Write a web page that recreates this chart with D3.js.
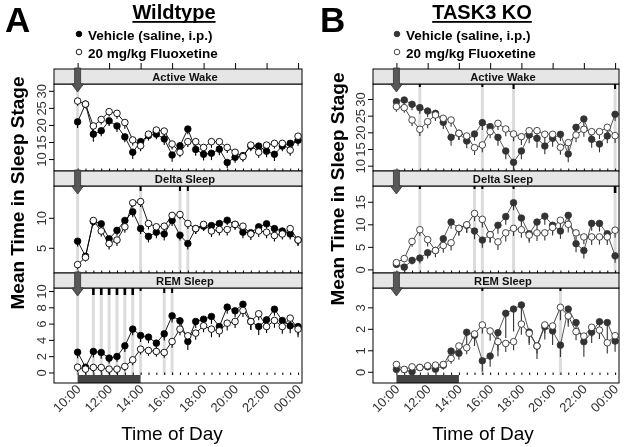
<!DOCTYPE html>
<html><head><meta charset="utf-8">
<script src="https://cdn.jsdelivr.net/npm/d3@7"></script>
<style>body{margin:0;background:#fff}svg{display:block;font-family:"Liberation Sans",Arial,sans-serif;will-change:transform}</style>
</head><body><svg id="c" width="624" height="447"></svg>
<script>
// ---------- DATA ----------
const times = ["10:00","10:30","11:00","11:30","12:00","12:30","13:00","13:30","14:00","14:30","15:00","15:30","16:00","16:30","17:00","17:30","18:00","18:30","19:00","19:30","20:00","20:30","21:00","21:30","22:00","22:30","23:00","23:30","00:00"];
const tickLabels = ["10:00","12:00","14:00","16:00","18:00","20:00","22:00","00:00"];
const stages = ["Active Wake","Delta Sleep","REM Sleep"];
const groupTitles = ["Wildtype","TASK3 KO"];
const groupLetters = ["A","B"];
const legendLabels = ["Vehicle (saline, i.p.)","20 mg/kg Fluoxetine"];
const lightsPeriod = ["10:00","14:00"];

// Wildtype
const wtVehWake  = [20.9,26.1,17.3,18.3,21.2,19.7,16.5,12.0,15.1,16.9,17.3,15.9,11.2,13.9,18.8,12.8,11.4,11.7,12.9,9.0,10.5,11.0,13.8,13.8,12.3,11.4,13.8,14.6,15.5];
const wtFluWake  = [27.0,26.1,19.7,21.6,23.9,23.4,20.7,15.6,13.9,17.3,18.5,18.2,14.4,12.0,15.1,15.1,13.4,15.1,15.1,13.4,12.0,10.7,14.1,12.0,14.1,14.6,14.6,12.6,16.7];
const wtVehDelta = [6.1,3.6,9.4,9.0,6.5,7.9,9.55,11.0,8.2,6.9,7.6,7.3,9.55,7.1,5.7,8.2,8.6,8.7,9.05,9.6,8.9,7.6,7.5,8.5,9.0,8.2,7.8,7.3,6.3];
const wtFluDelta = [2.2,3.4,9.55,7.8,5.7,6.3,8.5,12.5,12.7,9.05,8.5,8.6,10.4,10.55,9.05,8.2,8.9,7.8,8.05,8.05,8.9,8.6,7.3,7.8,7.6,7.05,7.3,8.2,6.3];
const wtVehREM   = [2.49,0.65,2.58,2.45,1.76,1.96,3.27,5.32,4.54,4.34,3.6,4.74,6.95,6.34,3.8,6.26,6.54,6.87,5.64,8.02,7.57,8.38,6.26,5.64,6.46,7.77,6.38,5.73,5.64];
const wtFluREM   = [0.65,0.41,0.61,0.61,0.41,0.41,0.74,1.55,2.86,2.7,2.58,2.45,3.8,5.32,4.5,4.83,5.73,5.32,5.11,6.05,6.26,7.61,6.26,7.2,5.64,6.38,5.64,6.67,5.32];
const wtVehWakeErr  = [1.8,1.2,2.2,1.6,1.5,1.8,1.6,2.0,1.6,1.5,1.5,1.8,2.0,1.8,1.5,1.8,1.8,2.0,1.8,1.6,1.6,1.5,1.5,1.6,1.8,2.0,1.5,1.5,1.6];
const wtFluWakeErr  = [1.4,1.2,1.6,1.5,1.4,1.6,1.8,1.6,1.6,1.4,1.4,1.6,1.6,1.5,1.6,1.6,1.6,1.8,1.6,1.6,1.6,1.5,1.4,1.6,1.6,1.5,1.4,1.6,1.4];
const wtVehDeltaErr = [0.9,0.8,0.7,0.9,0.9,0.9,0.8,0.9,0.9,1.0,1.0,1.1,0.9,0.9,1.0,0.9,0.8,0.9,0.9,0.8,0.8,1.0,0.9,0.9,0.8,0.8,0.8,0.9,0.9];
const wtFluDeltaErr = [0.8,0.7,0.8,0.9,1.0,1.0,1.0,0.8,0.9,1.0,1.0,0.9,0.9,0.8,0.9,0.9,1.0,1.0,1.0,1.0,0.9,0.9,1.0,1.0,1.0,1.0,0.9,0.9,1.0];
const wtVehREMErr   = [0.75,0.65,0.75,0.75,0.65,0.65,0.75,0.75,0.8,0.75,0.75,0.8,0.8,0.8,1.05,0.8,0.8,0.9,0.8,0.8,0.8,1.0,1.05,1.05,1.0,0.8,0.8,0.9,1.0];
const wtFluREMErr   = [0.6,0.65,0.6,0.6,0.6,0.6,0.6,0.65,0.65,0.65,0.65,0.65,0.75,0.75,0.8,0.8,0.8,1.0,0.8,0.9,0.8,0.8,1.0,0.8,0.8,0.9,0.9,0.8,1.0];

// TASK3 KO
const koVehWake  = [29.2,29.7,28.4,27.4,26.4,25.7,23.0,18.5,19.7,17.4,19.5,22.9,21.7,18.5,14.4,11.0,14.4,19.2,18.2,15.9,18.2,19.4,13.5,21.5,24.0,17.9,16.5,18.9,25.4];
const koFluWake  = [27.7,27.4,23.7,20.9,23.2,25.2,24.2,23.7,19.7,18.9,15.4,16.2,20.2,22.7,21.0,19.5,18.7,20.5,20.5,19.4,19.4,15.5,16.9,19.2,20.9,20.2,20.2,21.5,19.0];
const koVehDelta = [1.1,0.5,2.0,2.5,3.7,4.2,6.8,10.5,9.1,9.8,8.5,6.5,7.7,9.8,11.7,14.8,11.4,7.9,10.5,11.8,9.8,8.5,12.0,5.7,4.2,10.2,10.2,7.9,3.0];
const koFluDelta = [1.5,2.4,6.2,8.8,6.6,4.2,5.3,5.9,9.1,9.9,12.4,11.1,7.7,6.1,8.1,9.1,8.8,7.6,8.1,8.1,9.3,10.9,10.0,8.1,7.2,7.2,7.2,7.2,8.7];
const koVehREM   = [0.11,0.1,0.0,0.2,0.23,0.12,0.3,0.96,0.86,1.84,1.7,0.51,0.73,1.82,2.72,2.92,3.11,1.85,1.2,2.1,1.9,1.24,2.92,2.29,1.4,1.84,2.33,2.29,1.43];
const koFluREM   = [0.34,0.11,0.23,0.2,0.28,0.31,0.34,0.62,1.2,1.12,1.76,2.18,1.9,1.4,1.32,1.4,2.22,1.79,1.2,2.18,2.13,3.0,2.6,1.87,1.66,2.07,1.94,1.35,1.68];
const koVehWakeErr  = [1.5,1.5,1.8,1.8,1.8,2.0,2.0,2.5,2.0,2.2,2.0,2.2,2.0,2.5,2.5,2.2,2.5,2.5,2.8,2.5,2.5,2.0,2.5,2.2,2.2,2.5,2.5,2.2,2.0];
const koFluWakeErr  = [1.5,1.5,1.8,2.0,2.0,1.8,1.8,2.0,2.0,2.0,2.2,2.2,2.0,2.0,2.2,2.2,2.5,2.5,2.2,2.5,2.2,2.2,2.2,2.2,2.2,2.2,2.2,2.2,2.2];
const koVehDeltaErr = [0.6,0.6,0.9,1.2,1.3,1.5,1.4,1.5,1.6,1.6,1.8,1.7,1.8,1.9,1.8,1.7,1.8,1.6,1.8,1.9,1.8,1.7,1.8,1.9,1.8,1.6,1.8,1.7,1.5];
const koFluDeltaErr = [0.6,0.8,1.2,1.4,1.5,1.4,1.6,1.7,1.6,1.8,1.7,1.8,1.7,1.8,1.9,1.7,1.8,1.7,1.8,1.7,1.8,1.6,1.8,1.7,1.6,1.8,1.7,1.8,1.7];
const koVehREMErr   = [0.1,0.1,0.1,0.1,0.15,0.15,0.2,0.25,0.3,0.6,0.5,0.5,0.5,1.1,1.15,1.05,0.8,0.6,0.6,0.6,0.65,0.55,0.65,0.4,0.7,0.5,0.8,0.8,0.5];
const koFluREMErr   = [0.1,0.1,0.1,0.1,0.1,0.1,0.15,0.25,0.3,0.3,0.35,0.4,0.45,0.4,0.4,0.4,0.5,0.45,0.35,0.4,0.4,0.6,0.5,0.4,0.4,0.45,0.4,0.5,0.4];

// significance markers: [time, level]
const wtSigWake  = [["10:00",1]];
const wtSigDelta = [["10:00",1],["14:00",2],["16:30",2],["17:00",2]];
const wtSigREM   = [["10:00",1],["11:00",3],["11:30",3],["12:00",3],["12:30",3],["13:00",3],["13:30",3],["14:00",1],["15:30",2],["16:00",2]];
const koSigWake  = [["11:30",1],["15:30",1],["17:30",2],["00:00",2]];
const koSigDelta = [["11:30",1],["15:00",1],["15:30",1],["17:30",1],["00:00",3]];
const koSigREM   = [["15:30",1],["20:30",1]];

// ---------- LAYOUT ----------
const hourOf = t => { const [h,m] = t.split(":").map(Number); return (h < 10 ? h + 24 : h) + m/60; };
const svg = d3.select("#c");
const stripTops = [69,171,273], stripH = 15, plotH = 87, barH = 8;

const groups = [
  {x0:54, x1:302, titleX:174, letterX:5, legX:79, yTitleX:18, yTitleY:193, xTitleX:172,
   veh:"#000", vehLine:"#000", open:"#000",
   series:[[wtVehWake,wtFluWake,wtVehWakeErr,wtFluWakeErr],[wtVehDelta,wtFluDelta,wtVehDeltaErr,wtFluDeltaErr],[wtVehREM,wtFluREM,wtVehREMErr,wtFluREMErr]],
   sig:[wtSigWake,wtSigDelta,wtSigREM],
   domains:[[6.5,32],[0.8,15.3],[-0.31,10.37]],
   ticks:[[10,15,20,25,30],[5,10],[0,2,4,6,8,10]]},
  {x0:373, x1:619, titleX:482, letterX:320, legX:397, yTitleX:338, yTitleY:189, xTitleX:483,
   veh:"#333", vehLine:"#444", open:"#333",
   series:[[koVehWake,koFluWake,koVehWakeErr,koFluWakeErr],[koVehDelta,koFluDelta,koVehDeltaErr,koFluDeltaErr],[koVehREM,koFluREM,koVehREMErr,koFluREMErr]],
   sig:[koSigWake,koSigDelta,koSigREM],
   domains:[[8.4,34.5],[-0.8,18.5],[-0.15,3.9]],
   ticks:[[10,15,20,25,30],[0,5,10,15],[0,1,2,3]]}
];

groups.forEach((g, gi) => {
  const x = d3.scaleLinear().domain([8.5, 24.25]).range([g.x0, g.x1]);
  // header
  svg.append("text").attr("x", g.letterX).attr("y", 32).attr("font-size", 35).attr("font-weight", "bold").text(groupLetters[gi]);
  const tt = svg.append("text").attr("x", g.titleX).attr("y", 19).attr("text-anchor","middle").attr("font-size", 20).attr("font-weight","bold").text(groupTitles[gi]);
  const bb = tt.node().getBBox();
  svg.append("rect").attr("x", bb.x).attr("y", 21).attr("width", bb.width).attr("height", 1.8).attr("fill","#000");
  // legend
  [0,1].forEach(k => {
    const ly = k === 0 ? 34 : 52;
    svg.append("circle").attr("cx", g.legX).attr("cy", ly).attr("r", 2.8)
      .attr("fill", k === 0 ? g.veh : "#fff").attr("stroke", k === 0 ? g.veh : g.open).attr("stroke-width", 0.9);
    svg.append("text").attr("x", g.legX + 9).attr("y", ly + 5.5).attr("font-size", 13.5).attr("font-weight","bold").text(legendLabels[k]);
  });
  // top axis
  svg.append("g").attr("transform", `translate(0,${stripTops[0]})`)
    .call(d3.axisTop(x).tickValues(tickLabels.map(hourOf)).tickSize(6).tickFormat(""))
    .call(a => a.select(".domain").remove())
    .call(a => a.selectAll("line").attr("stroke","#000"));

  stages.forEach((st, si) => {
    const sTop = stripTops[si], pTop = sTop + stripH, pBot = pTop + plotH;
    const frameBot = si === 2 ? pBot + barH : pBot;
    const y = d3.scaleLinear().domain(g.domains[si]).range([pBot, pTop]);
    const [veh, flu, vehE, fluE] = g.series[si];
    const pg = svg.append("g");
    // significance grey lines
    g.sig[si].forEach(([t, lev]) => {
      pg.append("rect").attr("x", x(hourOf(t)) - 1.5).attr("y", pTop).attr("width", 3).attr("height", pBot - pTop).attr("fill", "#dcdcdc");
    });
    g.sig[si].forEach(([t, lev]) => {
      const len = [0, 3, 5, 7][lev], w = lev === 3 ? 2.6 : 2;
      pg.append("rect").attr("x", x(hourOf(t)) - w/2).attr("y", pTop).attr("width", w).attr("height", len).attr("fill", "#000");
    });
    // minor ticks
    pg.append("g").attr("transform", `translate(0,${pBot})`)
      .call(d3.axisBottom(x).tickValues(times.map(hourOf)).tickSize(-2.5).tickFormat(""))
      .call(a => a.select(".domain").remove())
      .call(a => a.selectAll("line").attr("stroke","#000").attr("stroke-width",1));
    // lights bar
    if (si === 2) {
      pg.append("rect").attr("x", x(hourOf(lightsPeriod[0]))).attr("y", pBot).attr("width", x(hourOf(lightsPeriod[1])) - x(hourOf(lightsPeriod[0]))).attr("height", barH).attr("fill", "#444");
    }
    // y axis
    const ya = pg.append("g").attr("transform", `translate(${g.x0},0)`)
      .call(d3.axisLeft(y).tickValues(g.ticks[si]).tickSize(5).tickPadding(0).tickFormat(d3.format("d")));
    ya.select(".domain").remove();
    ya.selectAll("line").attr("stroke","#000");
    ya.selectAll("text").attr("x", null).attr("dy", null).attr("text-anchor","middle")
      .attr("transform","translate(-8,0) rotate(-90)").attr("font-size", 13).attr("fill","#333")
      .attr("font-family", '"Liberation Sans",Arial,sans-serif');
    // data lines
    const line = d3.line().x((d,i) => x(hourOf(times[i]))).y(d => y(d));
    pg.append("path").attr("d", line(veh)).attr("fill","none").attr("stroke", g.vehLine).attr("stroke-width", 0.9);
    pg.append("path").attr("d", line(flu)).attr("fill","none").attr("stroke", g.open).attr("stroke-width", 0.9);
    // error bars (downward)
    [[veh, vehE, g.veh],[flu, fluE, g.open]].forEach(([s, e, c]) => {
      pg.selectAll(null).data(s).enter().append("line")
        .attr("x1",(d,i) => x(hourOf(times[i]))).attr("x2",(d,i) => x(hourOf(times[i])))
        .attr("y1", d => y(d)).attr("y2", (d,i) => y(d - e[i]))
        .attr("stroke", c).attr("stroke-width", 1.1);
    });
    pg.selectAll(null).data(veh).enter().append("circle")
      .attr("cx",(d,i) => x(hourOf(times[i]))).attr("cy", d => y(d)).attr("r", 3.3)
      .attr("fill", g.veh).attr("stroke", g.veh).attr("stroke-width", 0.8);
    pg.selectAll(null).data(flu).enter().append("circle")
      .attr("cx",(d,i) => x(hourOf(times[i]))).attr("cy", d => y(d)).attr("r", 3.3)
      .attr("fill", "#fff").attr("stroke", g.open).attr("stroke-width", 0.9);
    // frame
    svg.append("rect").attr("x", g.x0).attr("y", pTop).attr("width", g.x1 - g.x0).attr("height", frameBot - pTop)
      .attr("fill","none").attr("stroke","#000").attr("stroke-width",1);
    // strip
    svg.append("rect").attr("x", g.x0).attr("y", sTop).attr("width", g.x1 - g.x0).attr("height", stripH)
      .attr("fill","#e6e6e6").attr("stroke","#000").attr("stroke-width",1);
    svg.append("text").attr("x", (g.x0 + g.x1)/2 + 7).attr("y", sTop + 11.5).attr("text-anchor","middle")
      .attr("font-size", 11.2).attr("font-weight","bold").attr("fill","#111").text(st);
    // injection arrow
    const ax = x(hourOf(times[0]));
    svg.append("path").attr("d", `M${ax-3},${sTop-1}L${ax+3},${sTop-1}L${ax+3},${pTop}L${ax+6},${pTop}L${ax},${pTop+8}L${ax-6},${pTop}L${ax-3},${pTop}Z`)
      .attr("fill","#585858").attr("stroke","#333").attr("stroke-width",0.8);
  });

  // bottom labels
  const bottom = stripTops[2] + stripH + plotH + barH;
  tickLabels.forEach(t => {
    svg.append("text").attr("transform", `translate(${x(hourOf(t)) + 4},${bottom + 7}) rotate(-45)`)
      .attr("text-anchor","end").attr("font-size", 13).attr("fill","#333").text(t);
  });
  svg.append("text").attr("x", g.xTitleX).attr("y", 440).attr("text-anchor","middle").attr("font-size", 19).text("Time of Day");
  svg.append("text").attr("transform", `translate(${g.yTitleX + 6},${g.yTitleY}) rotate(-90)`).attr("text-anchor","middle")
    .attr("font-size", 19).attr("font-weight","bold").text("Mean Time in Sleep Stage");
});
</script></body></html>
